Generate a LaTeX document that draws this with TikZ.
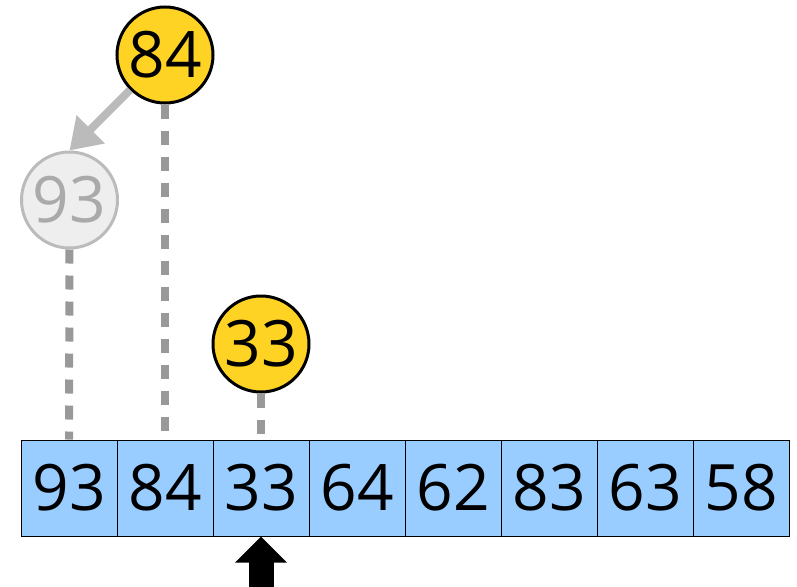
\documentclass[tikz,border=0pt]{standalone}
\usepackage{fontspec}
\setmainfont{Open Sans}
\usetikzlibrary{arrows.meta}
\definecolor{cellblue}{HTML}{99CCFF}
\definecolor{gold}{HTML}{FFD324}
\definecolor{dashgray}{HTML}{999999}
\definecolor{ghostfill}{HTML}{EEEEEE}
\definecolor{ghostline}{HTML}{BBBBBB}
\definecolor{ghosttext}{HTML}{AAAAAA}
\begin{document}
\begin{tikzpicture}[x=1pt,y=-1pt,
  cellbox/.style={draw=black,line width=1pt,fill=cellblue,minimum width=96pt,minimum height=96pt,inner sep=0pt,font=\fontsize{64}{64}\selectfont},
  ball/.style={circle,draw=black,line width=3pt,fill=gold,minimum size=96pt,inner sep=0pt,font=\fontsize{64}{64}\selectfont},
  ghost/.style={circle,draw=ghostline,line width=3pt,fill=ghostfill,text=ghosttext,minimum size=96pt,inner sep=0pt,font=\fontsize{64}{64}\selectfont},
  dashline/.style={draw=dashgray,line width=8pt,dash pattern=on 14pt off 12pt},
  ghostarrow/.style={draw=ghostline,line width=8pt,-{Triangle[width=38pt,length=30pt]}},
  upbig/.style={draw=black,line width=25pt,-{Triangle[width=50pt,length=26pt]}}]
\useasboundingbox (0,0) rectangle (797,586);
\foreach \v [count=\i] in {93,84,33,64,62,83,63,58}{
  \node[cellbox] (c\i) at ({21+96*(\i-1)+48},488) {\v};
}
\node[ball] (n84) at (165,55) {84};
\node[ghost] (n93) at (69.5,200) {93};
\node[ball] (n33) at (261,344) {33};
\draw[dashline] (n93.south) -- (c1.north);
\draw[dashline] (n84.south) -- (c2.north);
\draw[dashline] (n33.south) -- (c3.north);
\draw[ghostarrow] (n84.225) -- (n93.north);
\coordinate (pbot) at (261,590);
\draw[upbig] (pbot) -- (c3.south);
\end{tikzpicture}
\end{document}
